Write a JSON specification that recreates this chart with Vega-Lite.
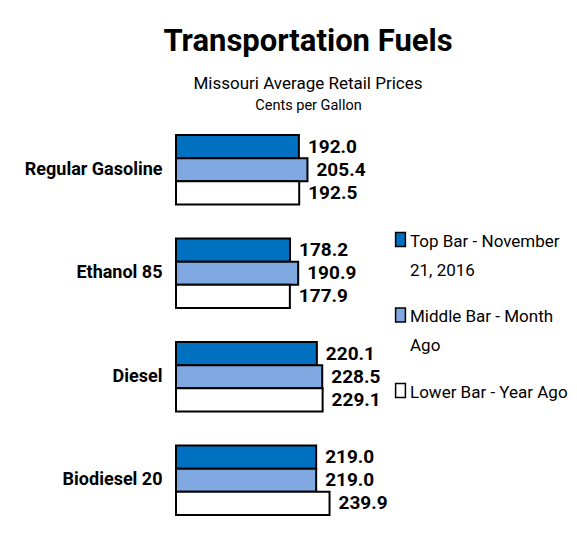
{
  "$schema": "https://vega.github.io/schema/vega-lite/v6.json",
  "width": 200,
  "height": 414,
  "autosize": {"type": "none"},
  "padding": {"left": 176, "top": 118, "right": 201, "bottom": 23},
  "background": "white",
  "title": {
    "text": "Transportation Fuels",
    "subtitle": "Missouri Average Retail Prices",
    "font": "Roboto",
    "fontSize": 31,
    "fontWeight": "bold",
    "color": "black",
    "subtitleFont": "Roboto",
    "subtitleFontSize": 17,
    "subtitleColor": "black",
    "subtitlePadding": 18,
    "anchor": "middle",
    "frame": "group",
    "offset": 2,
    "dx": 32,
    "dy": -2
  },
  "data": {
    "values": [
      {"fuel": "Regular Gasoline", "series": "Top Bar - November 21, 2016", "value": 192.0},
      {"fuel": "Regular Gasoline", "series": "Middle Bar - Month Ago", "value": 205.4},
      {"fuel": "Regular Gasoline", "series": "Lower Bar - Year Ago", "value": 192.5},
      {"fuel": "Ethanol 85", "series": "Top Bar - November 21, 2016", "value": 178.2},
      {"fuel": "Ethanol 85", "series": "Middle Bar - Month Ago", "value": 190.9},
      {"fuel": "Ethanol 85", "series": "Lower Bar - Year Ago", "value": 177.9},
      {"fuel": "Diesel", "series": "Top Bar - November 21, 2016", "value": 220.1},
      {"fuel": "Diesel", "series": "Middle Bar - Month Ago", "value": 228.5},
      {"fuel": "Diesel", "series": "Lower Bar - Year Ago", "value": 229.1},
      {"fuel": "Biodiesel 20", "series": "Top Bar - November 21, 2016", "value": 219.0},
      {"fuel": "Biodiesel 20", "series": "Middle Bar - Month Ago", "value": 219.0},
      {"fuel": "Biodiesel 20", "series": "Lower Bar - Year Ago", "value": 239.9}
    ]
  },
  "encoding": {
    "y": {
      "field": "fuel",
      "type": "nominal",
      "sort": ["Regular Gasoline", "Ethanol 85", "Diesel", "Biodiesel 20"],
      "scale": {"paddingInner": 0.33, "paddingOuter": 0.165},
      "axis": {
        "title": null,
        "domain": false,
        "ticks": false,
        "labelFont": "Roboto",
        "labelFontWeight": "bold",
        "labelFontSize": 18,
        "labelColor": "black",
        "labelPadding": 14
      }
    },
    "yOffset": {
      "field": "series",
      "type": "nominal",
      "sort": ["Top Bar - November 21, 2016", "Middle Bar - Month Ago", "Lower Bar - Year Ago"],
      "scale": {"paddingInner": 0, "paddingOuter": 0}
    },
    "x": {
      "field": "value",
      "type": "quantitative",
      "scale": {"domain": [0, 312.5], "nice": false},
      "axis": {
        "orient": "top",
        "title": "Cents per Gallon",
        "titleFont": "Roboto",
        "titleFontSize": 14.5,
        "titleFontWeight": "normal",
        "titleColor": "black",
        "titlePadding": 6,
        "titleX": 132,
        "titleAnchor": "middle",
        "titleAlign": "center",
        "labels": false,
        "ticks": false,
        "domain": false,
        "grid": false
      }
    }
  },
  "layer": [
    {
      "mark": {"type": "bar", "stroke": "black", "strokeWidth": 2, "cornerRadius": 0},
      "encoding": {
        "color": {
          "field": "series",
          "type": "nominal",
          "scale": {
            "domain": ["Top Bar - November 21, 2016", "Middle Bar - Month Ago", "Lower Bar - Year Ago"],
            "range": ["#0070c0", "#7fa9e0", "#ffffff"]
          },
          "legend": {
            "title": null,
            "orient": "none",
            "legendX": 216,
            "legendY": 120,
            "symbolType": "M-0.7,-2H0.7V0H-0.7Z",
            "symbolSize": 196,
            "symbolStrokeColor": "black",
            "symbolStrokeWidth": 1.5,
            "symbolOpacity": 1,
            "labelFont": "Roboto",
            "labelFontSize": 17,
            "labelColor": "black",
            "labelBaseline": "alphabetic",
            "labelOffset": 1,
            "labelLimit": 300,
            "rowPadding": 25.5,
            "labelExpr": "datum.label == 'Top Bar - November 21, 2016' ? ['Top Bar - November', '21, 2016'] : datum.label == 'Middle Bar - Month Ago' ? ['Middle Bar - Month', 'Ago'] : datum.label"
          }
        }
      }
    },
    {
      "mark": {
        "type": "text",
        "align": "left",
        "baseline": "middle",
        "dx": 9,
        "font": "Roboto",
        "fontWeight": "bold",
        "fontSize": 19,
        "color": "black"
      },
      "encoding": {
        "text": {"field": "value", "type": "quantitative", "format": ".1f"}
      }
    }
  ],
  "config": {
    "view": {"stroke": null},
    "style": {"guide-label": {"lineHeight": 29}}
  }
}
